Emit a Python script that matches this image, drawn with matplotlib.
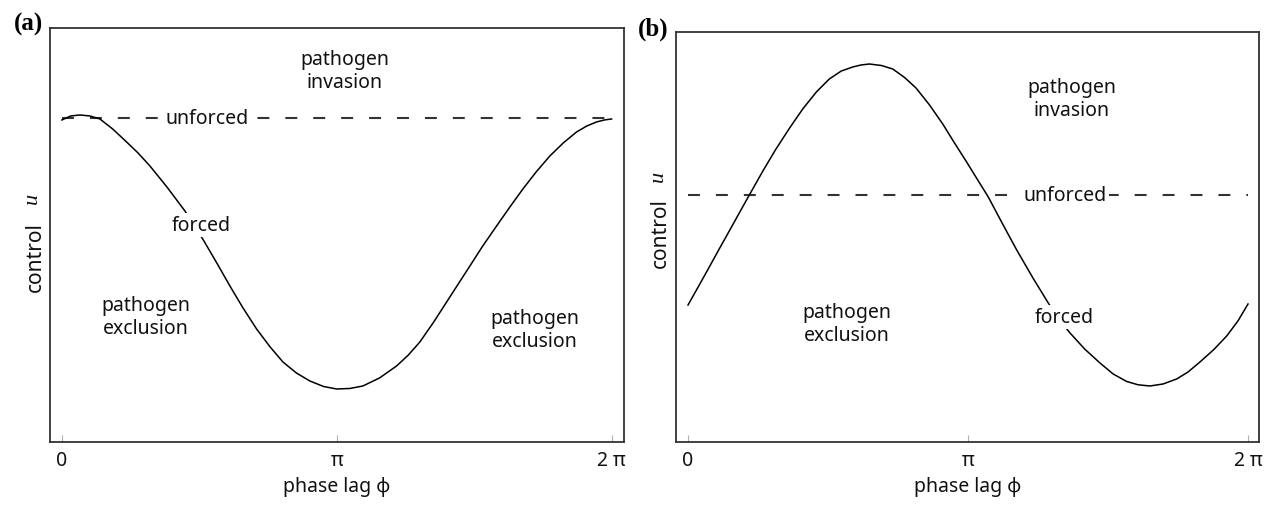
""" Forced vs unforced control threshold as a function of phase lag. """

from numpy import pi
import matplotlib
matplotlib.use('Agg')
import matplotlib.pyplot as plt

plt.rcParams['font.family'] = ['Noto Sans', 'DejaVu Sans']
plt.rcParams['lines.scale_dashes'] = False

# curve values (u in arbitrary units)
phi_a = [0.0, 0.10, 0.206, 0.32, 0.434, 0.58, 0.739, 0.87, 1.006, 1.2,
         1.406, 1.623, 1.77, 1.92, 2.07, 2.225, 2.38, 2.526, 2.68, 2.834,
         2.99, 3.139, 3.29, 3.44, 3.63, 3.825, 3.96, 4.091, 4.25, 4.397,
         4.53, 4.663, 4.81, 4.968, 5.12, 5.269, 5.42, 5.577, 5.73, 5.882,
         6.00, 6.11, 6.20, 6.283]
u_a = [3.22, 3.26, 3.27, 3.26, 3.23, 3.13, 3.00, 2.89, 2.76, 2.55,
       2.31, 2.01, 1.79, 1.56, 1.34, 1.13, 0.95, 0.80, 0.69, 0.61,
       0.555, 0.53, 0.535, 0.56, 0.64, 0.76, 0.87, 1.00, 1.20, 1.40,
       1.58, 1.76, 1.96, 2.16, 2.35, 2.53, 2.70, 2.86, 2.99, 3.10,
       3.16, 3.20, 3.22, 3.23]
unforced_a = 3.24

phi_b = [0.0, 0.12, 0.239, 0.35, 0.463, 0.575, 0.688, 0.84, 0.987, 1.14,
         1.287, 1.44, 1.585, 1.72, 1.848, 1.94, 2.034, 2.17, 2.297, 2.43,
         2.558, 2.71, 2.858, 2.99, 3.119, 3.24, 3.369, 3.53, 3.688, 3.87,
         4.042, 4.16, 4.286, 4.45, 4.622, 4.77, 4.922, 5.05, 5.183, 5.33,
         5.483, 5.61, 5.744, 5.90, 6.044, 6.17, 6.283]
u_b = [1.37, 1.56, 1.75, 1.93, 2.11, 2.29, 2.47, 2.71, 2.93, 3.14,
       3.33, 3.50, 3.63, 3.71, 3.75, 3.77, 3.78, 3.765, 3.73, 3.645,
       3.54, 3.37, 3.18, 2.99, 2.81, 2.635, 2.45, 2.18, 1.92, 1.64,
       1.39, 1.23, 1.09, 0.93, 0.79, 0.68, 0.605, 0.572, 0.56, 0.58,
       0.63, 0.70, 0.80, 0.925, 1.06, 1.21, 1.38]
unforced_b = 2.47

tick_pos = [0, pi, 2 * pi]
tick_labels = ['0', 'π', '2 π']

FS = 14
TXT = '#111111'


def label(ax, x, y, s, mask=False):
    kw = {}
    if mask:
        kw['bbox'] = dict(facecolor='white', edgecolor='none', pad=1.5)
    ax.text(x, y, s, ha='center', va='center', fontsize=FS, color=TXT,
            linespacing=1.2, zorder=5, **kw)


def draw_panel(ax, phi, u, unforced, xlim, ylim, tag, ylab_y, u_y):
    ax.plot([0, 2 * pi], [unforced, unforced], color='#333333', lw=1.5,
            dashes=(8.6, 11.5), zorder=2)
    ax.plot(phi, u, color='black', lw=1.1, zorder=3)
    ax.set_xlim(*xlim)
    ax.set_ylim(*ylim)
    ax.set_yticks([])
    ax.set_xticks(tick_pos)
    ax.set_xticklabels(tick_labels, fontsize=FS, color=TXT)
    ax.tick_params(axis='x', direction='in', length=5, width=0.8,
                   color='#b0b0b0', pad=6)
    for sp in ax.spines.values():
        sp.set_color('#333333')
        sp.set_linewidth(1.3)
    ax.set_xlabel('phase lag ϕ', fontsize=FS, color=TXT, labelpad=4)
    # y label: sans "control" plus italic serif u
    ax.text(-0.026, ylab_y, 'control', transform=ax.transAxes, rotation=90,
            ha='center', va='center', fontsize=15, color=TXT)
    ax.text(-0.030, u_y, 'u', transform=ax.transAxes, rotation=90,
            ha='center', va='center', fontsize=16, color=TXT,
            family='Liberation Serif', style='italic')
    ax.text(-0.012, 1.01, tag, transform=ax.transAxes, ha='right', va='center',
            fontsize=18, fontweight='bold', family='Liberation Serif')


fig = plt.figure(figsize=(12.74, 5.10), dpi=100)
ax_a = fig.add_axes([0.0392, 0.1314, 0.4505, 0.8118])
ax_b = fig.add_axes([0.5306, 0.1314, 0.4576, 0.8039])

draw_panel(ax_a, phi_a, u_a, unforced_a, (-0.137, 6.423), (0, 4.14), '(a)',
           0.449, 0.59)
label(ax_a, 3.234, 3.71, 'pathogen\ninvasion')
label(ax_a, 1.657, unforced_a, 'unforced', mask=True)
label(ax_a, 1.589, 2.17, 'forced', mask=True)
label(ax_a, 0.96, 1.25, 'pathogen\nexclusion')
label(ax_a, 5.406, 1.12, 'pathogen\nexclusion')

draw_panel(ax_b, phi_b, u_b, unforced_b, (-0.135, 6.406), (0, 4.10), '(b)',
           0.512, 0.65)
label(ax_b, 4.308, 3.43, 'pathogen\ninvasion')
label(ax_b, 4.23, unforced_b, 'unforced', mask=True)
label(ax_b, 4.219, 1.25, 'forced', mask=True)
label(ax_b, 1.784, 1.18, 'pathogen\nexclusion')

fig.savefig('out.png', dpi=100)
